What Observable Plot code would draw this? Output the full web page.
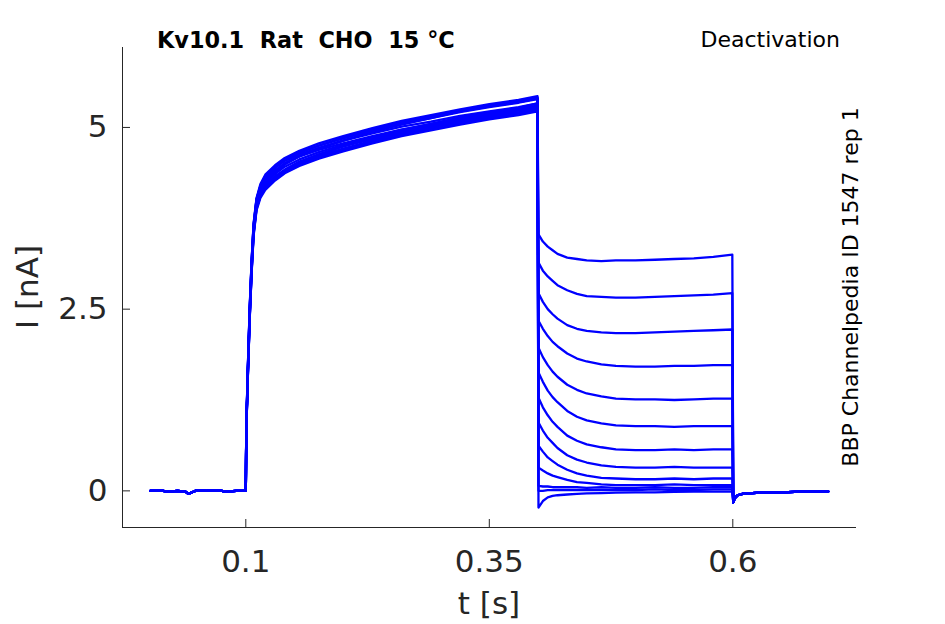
<!DOCTYPE html>
<html><head><meta charset="utf-8">
<script src="https://cdn.jsdelivr.net/npm/d3@7"></script>
<script src="https://cdn.jsdelivr.net/npm/@observablehq/plot@0.6"></script>
<style>body{margin:0;background:#fff} svg text{white-space:pre}</style>
</head><body><div id="chart"></div>
<script>
// ---- text ----
const titleText = "Kv10.1  Rat  CHO  15 °C";
const protocolText = "Deactivation";
const sourceText = "BBP Channelpedia ID 1547 rep 1";
const xLabel = "t [s]";
const yLabel = "I [nA]";
const xTicks = [0.1, 0.35, 0.6];
const yTicks = [0, 2.5, 5];
const xDomain = [-0.0266, 0.727];
const yDomain = [-0.504, 6.10];

const sweeps = [1,2,3,4,5,6,7,8,9,10,11,12,13];

// holding period (shared by all sweeps)
const baseT = [0.002, 0.01, 0.02, 0.03, 0.038, 0.041, 0.045, 0.05, 0.06, 0.07, 0.08, 0.09, 0.0995];
const baseI = [0.00, 0.01, -0.01, 0.00, -0.01, -0.04, -0.02, 0.01, 0.00, 0.01, -0.01, 0.00, 0.00];

// activating step
const actT = [0.1, 0.1005, 0.102, 0.104, 0.106, 0.108, 0.111, 0.115, 0.12, 0.13, 0.14, 0.155, 0.175, 0.2, 0.23, 0.26, 0.29, 0.32, 0.35, 0.38, 0.3995];
const actI = [
  [0.00, 0.88, 1.66, 2.52, 3.17, 3.66, 4.01, 4.20, 4.33, 4.46, 4.56, 4.66, 4.75, 4.86, 4.97, 5.07, 5.15, 5.23, 5.30, 5.36, 5.41],
  [0.00, 0.83, 1.56, 2.40, 3.05, 3.56, 3.91, 4.09, 4.20, 4.33, 4.42, 4.53, 4.63, 4.74, 4.84, 4.94, 5.02, 5.10, 5.17, 5.23, 5.28],
  [0.00, 0.86, 1.63, 2.49, 3.15, 3.65, 4.00, 4.19, 4.31, 4.44, 4.54, 4.63, 4.72, 4.82, 4.92, 5.01, 5.08, 5.16, 5.22, 5.28, 5.33],
  [0.00, 0.82, 1.54, 2.38, 3.02, 3.53, 3.88, 4.05, 4.16, 4.29, 4.39, 4.49, 4.59, 4.69, 4.80, 4.90, 4.98, 5.06, 5.13, 5.19, 5.24],
  [0.00, 0.88, 1.66, 2.53, 3.18, 3.68, 4.03, 4.22, 4.35, 4.48, 4.58, 4.68, 4.78, 4.88, 4.99, 5.09, 5.17, 5.25, 5.32, 5.38, 5.43],
  [0.00, 0.84, 1.58, 2.43, 3.08, 3.58, 3.93, 4.11, 4.23, 4.36, 4.46, 4.56, 4.66, 4.76, 4.87, 4.97, 5.05, 5.13, 5.20, 5.26, 5.31],
  [0.00, 0.85, 1.59, 2.44, 3.09, 3.59, 3.94, 4.12, 4.24, 4.38, 4.49, 4.60, 4.71, 4.82, 4.94, 5.05, 5.13, 5.22, 5.29, 5.35, 5.40],
  [0.00, 0.83, 1.55, 2.39, 3.04, 3.55, 3.90, 4.07, 4.18, 4.31, 4.41, 4.51, 4.61, 4.71, 4.82, 4.92, 5.00, 5.08, 5.15, 5.21, 5.26],
  [0.00, 0.86, 1.62, 2.48, 3.13, 3.63, 3.98, 4.17, 4.29, 4.41, 4.51, 4.60, 4.69, 4.78, 4.88, 4.97, 5.04, 5.11, 5.18, 5.24, 5.29],
  [0.00, 0.81, 1.53, 2.36, 3.00, 3.51, 3.86, 4.03, 4.14, 4.27, 4.37, 4.47, 4.57, 4.67, 4.78, 4.88, 4.96, 5.04, 5.11, 5.17, 5.22],
  [0.00, 0.87, 1.64, 2.50, 3.16, 3.66, 4.01, 4.19, 4.32, 4.45, 4.55, 4.65, 4.75, 4.85, 4.96, 5.06, 5.14, 5.22, 5.29, 5.35, 5.40],
  [0.00, 0.82, 1.55, 2.38, 3.03, 3.54, 3.88, 4.06, 4.17, 4.30, 4.41, 4.52, 4.63, 4.74, 4.86, 4.96, 5.05, 5.14, 5.21, 5.27, 5.33],
  [0.00, 0.85, 1.61, 2.46, 3.11, 3.61, 3.96, 4.15, 4.27, 4.40, 4.50, 4.61, 4.71, 4.82, 4.94, 5.04, 5.13, 5.21, 5.28, 5.34, 5.39]
];

// tail (deactivation) step
const tailT = [0.4005, 0.405, 0.41, 0.415, 0.42, 0.43, 0.44, 0.45, 0.465, 0.48, 0.5, 0.52, 0.54, 0.56, 0.58, 0.5995];
const tailI = [
  [3.53, 3.43, 3.36, 3.31, 3.26, 3.21, 3.19, 3.17, 3.16, 3.17, 3.17, 3.18, 3.19, 3.20, 3.22, 3.25],
  [3.14, 3.03, 2.95, 2.89, 2.83, 2.76, 2.71, 2.68, 2.67, 2.66, 2.66, 2.67, 2.68, 2.69, 2.70, 2.72],
  [2.72, 2.60, 2.50, 2.43, 2.37, 2.28, 2.23, 2.20, 2.18, 2.17, 2.17, 2.18, 2.19, 2.20, 2.21, 2.22],
  [2.34, 2.23, 2.13, 2.05, 1.99, 1.89, 1.82, 1.78, 1.74, 1.72, 1.71, 1.71, 1.72, 1.72, 1.73, 1.73],
  [1.97, 1.84, 1.73, 1.64, 1.57, 1.46, 1.39, 1.34, 1.30, 1.27, 1.26, 1.26, 1.25, 1.26, 1.27, 1.27],
  [1.63, 1.50, 1.38, 1.29, 1.22, 1.10, 1.02, 0.97, 0.93, 0.90, 0.89, 0.89, 0.88, 0.89, 0.89, 0.89],
  [1.28, 1.15, 1.04, 0.95, 0.88, 0.76, 0.69, 0.64, 0.60, 0.57, 0.56, 0.56, 0.57, 0.56, 0.57, 0.57],
  [0.94, 0.83, 0.73, 0.66, 0.59, 0.49, 0.43, 0.39, 0.35, 0.33, 0.32, 0.32, 0.33, 0.32, 0.32, 0.32],
  [0.62, 0.54, 0.46, 0.41, 0.36, 0.29, 0.24, 0.21, 0.18, 0.17, 0.16, 0.16, 0.17, 0.16, 0.17, 0.17],
  [0.32, 0.28, 0.24, 0.21, 0.19, 0.15, 0.12, 0.11, 0.09, 0.08, 0.08, 0.08, 0.09, 0.08, 0.08, 0.08],
  [0.07, 0.06, 0.06, 0.05, 0.05, 0.05, 0.05, 0.04, 0.05, 0.04, 0.04, 0.05, 0.04, 0.04, 0.05, 0.05],
  [0.00, 0.00, 0.01, 0.01, 0.01, 0.01, 0.01, 0.01, 0.01, 0.01, 0.01, 0.02, 0.01, 0.01, 0.02, 0.02],
  [-0.23, -0.14, -0.09, -0.07, -0.06, -0.05, -0.04, -0.035, -0.03, -0.025, -0.02, -0.02, -0.015, -0.01, -0.01, -0.01]
];

// return to holding (shared)
const postT = [0.6005, 0.602, 0.605, 0.61, 0.62, 0.635, 0.65, 0.67, 0.685, 0.698];
const postI = [-0.16, -0.10, -0.06, -0.04, -0.03, -0.02, -0.02, -0.01, -0.01, -0.01];

// ---- build table ----
const rows = [];
sweeps.forEach((s, k) => {
  baseT.forEach((t, j) => rows.push({sweep: s, t, i: baseI[j]}));
  actT.forEach((t, j) => rows.push({sweep: s, t, i: actI[k][j]}));
  tailT.forEach((t, j) => rows.push({sweep: s, t, i: tailI[k][j]}));
  postT.forEach((t, j) => rows.push({sweep: s, t, i: postI[j]}));
});

const W = 945, H = 624;
const mL = 122, mR = 89, mT = 47, mB = 97;
const axisColor = "#262626";

const svg = Plot.plot({
  width: W, height: H,
  marginLeft: mL, marginRight: mR, marginTop: mT, marginBottom: mB,
  style: {fontFamily: "DejaVu Sans", fontSize: "31px", color: axisColor, background: "#fff"},
  x: {domain: xDomain},
  y: {domain: yDomain},
  marks: [
    Plot.line(rows, {x: "t", y: "i", z: "sweep", stroke: "#0000ff", strokeWidth: 2.3}),
    Plot.ruleX([xDomain[0]], {stroke: axisColor, strokeWidth: 1}),
    Plot.ruleY([yDomain[0]], {stroke: axisColor, strokeWidth: 1}),
    Plot.axisX({ticks: xTicks, tickFormat: d => String(d), tickSize: -8, tickPadding: 30, label: null, fontSize: 31, stroke: axisColor, fill: axisColor}),
    Plot.axisY({ticks: yTicks, tickFormat: d => String(d), tickSize: -8, tickPadding: 23, label: null, fontSize: 31, stroke: axisColor, fill: axisColor})
  ]
});

const g = d3.select(svg);
const cx = mL + (W - mL - mR) / 2;
const cy = mT + (H - mT - mB) / 2;
g.append("text").attr("transform", `translate(${cx},614)`).attr("text-anchor", "middle")
  .attr("font-size", 31).attr("fill", axisColor).text(xLabel);
g.append("text").attr("transform", `translate(37.5,${cy}) rotate(-90)`).attr("text-anchor", "middle")
  .attr("font-size", 31).attr("fill", axisColor).text(yLabel);
g.append("text").attr("transform", "translate(157,47.5)").attr("text-anchor", "start")
  .attr("font-size", 22.4).attr("font-weight", "bold").attr("fill", "#000").text(titleText);
g.append("text").attr("transform", "translate(840,47)").attr("text-anchor", "end").attr("font-size", 22)
  .attr("fill", "#000").text(protocolText);
g.append("text").attr("transform", `translate(858,${cy}) rotate(-90)`).attr("text-anchor", "middle")
  .attr("font-size", 22).attr("fill", "#000").text(sourceText);

document.getElementById("chart").appendChild(svg);
</script></body></html>
